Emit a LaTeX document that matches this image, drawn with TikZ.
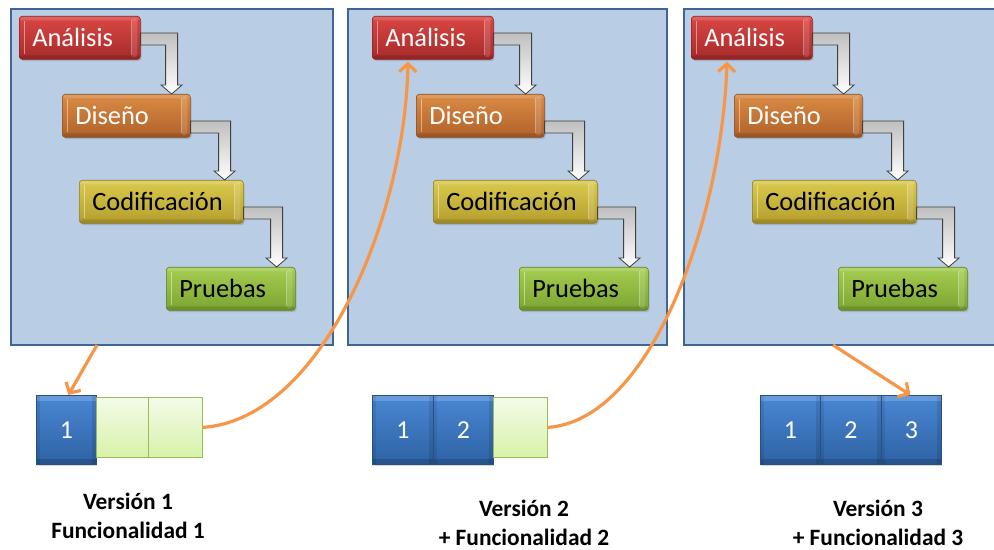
\documentclass[tikz,border=0pt]{standalone}
\usepackage{fontspec}
\setmainfont{Carlito}
\usetikzlibrary{arrows.meta,calc,shadows}

% panel colours
\definecolor{panelfill}{HTML}{B9CDE5}
\definecolor{paneledge}{HTML}{3E6594}
% stage colours: top, bottom, outline
\definecolor{anaT}{HTML}{DA4744}
\definecolor{anaB}{HTML}{A72A2A}
\definecolor{anaD}{HTML}{8A2222}
\definecolor{disT}{HTML}{DA8B45}
\definecolor{disB}{HTML}{B0622A}
\definecolor{disD}{HTML}{8C4E20}
\definecolor{codT}{HTML}{DACA4E}
\definecolor{codB}{HTML}{B49E2C}
\definecolor{codD}{HTML}{8E7C22}
\definecolor{pruT}{HTML}{A6CD50}
\definecolor{pruB}{HTML}{7BA532}
\definecolor{pruD}{HTML}{5E8226}
% increment blocks
\definecolor{bluT}{HTML}{4A87D4}
\definecolor{bluB}{HTML}{2E62A3}
\definecolor{bluD}{HTML}{27507F}
\definecolor{grnT}{HTML}{F4FBE9}
\definecolor{grnB}{HTML}{D7F2A8}
\definecolor{grnD}{HTML}{9BBB59}
% connectors
\definecolor{orangeline}{HTML}{F79646}
\definecolor{elbowedge}{HTML}{404040}

\tikzset{
  panel/.style={draw=paneledge, line width=2.2bp, fill=panelfill,
    anchor=north west, inner sep=0pt, minimum height=336bp},
  stagebox/.style n args={3}{rectangle, rounded corners=3bp, draw=#3,
    line width=0.6bp, top color=#1, bottom color=#2,
    minimum height=43bp, inner xsep=13bp, inner ysep=0pt,
    text height=19bp, text depth=2bp, align=left, anchor=north west,
    font=\fontsize{26.5}{30}\selectfont,
    drop shadow={shadow xshift=1.2bp, shadow yshift=-1.8bp, opacity=0.35},
    path picture={
      \fill[white,opacity=0.15] (path picture bounding box.north west)
        rectangle ([yshift=-4bp]path picture bounding box.north east);
      \fill[black,opacity=0.12] ([yshift=4bp]path picture bounding box.south west)
        rectangle (path picture bounding box.south east);
      \fill[white,opacity=0.14] ([xshift=-9bp,yshift=-2bp]path picture bounding box.north east)
        rectangle ([xshift=-3bp,yshift=2bp]path picture bounding box.south east);
      \draw[white,opacity=0.3,line width=0.8bp]
        ([xshift=-9bp,yshift=-4bp]path picture bounding box.north east)
        -- ([xshift=-9bp,yshift=4bp]path picture bounding box.south east);
      \draw[white,opacity=0.45,line width=0.8bp]
        ([xshift=5bp,yshift=-5bp]path picture bounding box.north west)
        -- ([xshift=5bp,yshift=5bp]path picture bounding box.south west);
    }},
  elbowarrow/.style={draw=elbowedge, line width=0.8bp, top color=gray!50,
    bottom color=white, line join=miter},
  doneblock/.style={rectangle, draw=bluD, line width=0.8bp, top color=bluT,
    bottom color=bluB, anchor=north west, inner sep=0pt,
    minimum height=69bp, text=white, text height=17bp, text depth=0pt,
    font=\fontsize{26}{30}\selectfont,
    drop shadow={shadow xshift=1bp, shadow yshift=-1.5bp, opacity=0.3},
    path picture={
      \fill[white,opacity=0.18] (path picture bounding box.north west)
        rectangle ([yshift=-6bp]path picture bounding box.north east);
      \fill[black,opacity=0.15] ([yshift=5bp]path picture bounding box.south west)
        rectangle (path picture bounding box.south east);
      \fill[black,opacity=0.08] (path picture bounding box.south west)
        rectangle ([xshift=4bp]path picture bounding box.north west);
      \fill[black,opacity=0.1] (path picture bounding box.south east)
        rectangle ([xshift=-4bp]path picture bounding box.north east);
    }},
  todoblock/.style={rectangle, draw=grnD, line width=0.8bp, top color=grnT,
    bottom color=grnB, anchor=north west, inner sep=0pt, minimum height=60bp},
  verlabel/.style={align=center, inner sep=1bp,
    font=\fontsize{23.5}{29}\selectfont\bfseries},
  orangearrow/.style={draw=orangeline, line width=3.2bp,
    -{Straight Barb[length=8bp,width=17bp]}}
}

% bent grey arrow from the right side of one stage down onto the next
\newcommand\stepelbow[3]{%
  \path[elbowarrow] let \p1=(#1.north east), \p2=(#2.north east) in
    (\x1,\y1-#3) -- (\x2-13bp,\y1-#3) -- (\x2-13bp,\y2+9bp)
    -- (\x2-8.5bp,\y2+9bp) -- (\x2-19bp,\y2) -- (\x2-29.5bp,\y2+9bp)
    -- (\x2-25bp,\y2+9bp) -- (\x2-25bp,\y1-#3-12bp) -- (\x1,\y1-#3-12bp) -- cycle;}

\begin{document}
\begin{tikzpicture}[x=1bp,y=-1bp]
\useasboundingbox (0,0) rectangle (994,550);
\clip (0,0) rectangle (994,550);
\fill[white] (0,0) rectangle (994,550);

% iteration panels
\node[panel, minimum width=322bp] (p1) at (10,8) {};
\node[panel, minimum width=319bp] (p2) at (347,8) {};
\node[panel, minimum width=318bp] (p3) at (683,8) {};

% stage nodes, iteration 1
\node[stagebox={anaT}{anaB}{anaD}, text=white, text width=95bp] (a1) at (19,16) {Análisis};
\node[stagebox={disT}{disB}{disD}, text=white, text width=102bp] (d1) at (62,94) {Diseño};
\node[stagebox={codT}{codB}{codD}, text=black, text width=138bp] (c1) at (79,180) {Codificación};
\node[stagebox={pruT}{pruB}{pruD}, text=black, text width=103bp] (r1) at (166,267) {Pruebas};
% iteration 2
\node[stagebox={anaT}{anaB}{anaD}, text=white, text width=95bp] (a2) at (372,16) {Análisis};
\node[stagebox={disT}{disB}{disD}, text=white, text width=102bp] (d2) at (416,94) {Diseño};
\node[stagebox={codT}{codB}{codD}, text=black, text width=138bp] (c2) at (433,180) {Codificación};
\node[stagebox={pruT}{pruB}{pruD}, text=black, text width=103bp] (r2) at (519,267) {Pruebas};
% iteration 3
\node[stagebox={anaT}{anaB}{anaD}, text=white, text width=95bp] (a3) at (691,16) {Análisis};
\node[stagebox={disT}{disB}{disD}, text=white, text width=102bp] (d3) at (734,94) {Diseño};
\node[stagebox={codT}{codB}{codD}, text=black, text width=138bp] (c3) at (752,180) {Codificación};
\node[stagebox={pruT}{pruB}{pruD}, text=black, text width=103bp] (r3) at (838,267) {Pruebas};

% grey step arrows
\stepelbow{a1}{d1}{17bp} \stepelbow{d1}{c1}{27bp} \stepelbow{c1}{r1}{27bp}
\stepelbow{a2}{d2}{17bp} \stepelbow{d2}{c2}{27bp} \stepelbow{c2}{r2}{27bp}
\stepelbow{a3}{d3}{17bp} \stepelbow{d3}{c3}{27bp} \stepelbow{c3}{r3}{27bp}

% increments delivered so far
\node[doneblock, minimum width=60bp] (b11) at (36,395) {1};
\node[todoblock, minimum width=52bp] (b12) at (96,397) {};
\node[todoblock, minimum width=54bp] (b13) at (148,397) {};

\node[doneblock, minimum width=61bp] (b21) at (372,395) {1};
\node[doneblock, minimum width=60bp] (b22) at (433,395) {2};
\node[todoblock, minimum width=54bp] (b23) at (493,397) {};

\node[doneblock, minimum width=60bp] (b31) at (760,395) {1};
\node[doneblock, minimum width=61bp] (b32) at (820,395) {2};
\node[doneblock, minimum width=60bp] (b33) at (881,395) {3};

% version captions
\node[verlabel] (v1) at (128,516) {Versión 1\\Funcionalidad 1};
\node[verlabel] (v2) at (524,523) {Versión 2\\+ Funcionalidad 2};
\node[verlabel] (v3) at (878,523) {Versión 3\\+ Funcionalidad 3};

% orange flow between iterations
\coordinate (s1) at (97,345);
\coordinate (s3) at (833,345);
\coordinate (t2) at ($(a2.south west)+(36,2)$);
\coordinate (t3) at ($(a3.south west)+(36,2)$);
\draw[orangearrow] (s1) -- ($(b11.north)+(2,0)$);
\draw[orangearrow] (b13.east) .. controls +(118,-8) and +(-3,158) .. (t2);
\draw[orangearrow] (b23.east) .. controls +(103,-7) and +(-5,158) .. (t3);
\draw[orangearrow] (s3) -- ($(b33.north)+(-1,0)$);
\end{tikzpicture}
\end{document}
